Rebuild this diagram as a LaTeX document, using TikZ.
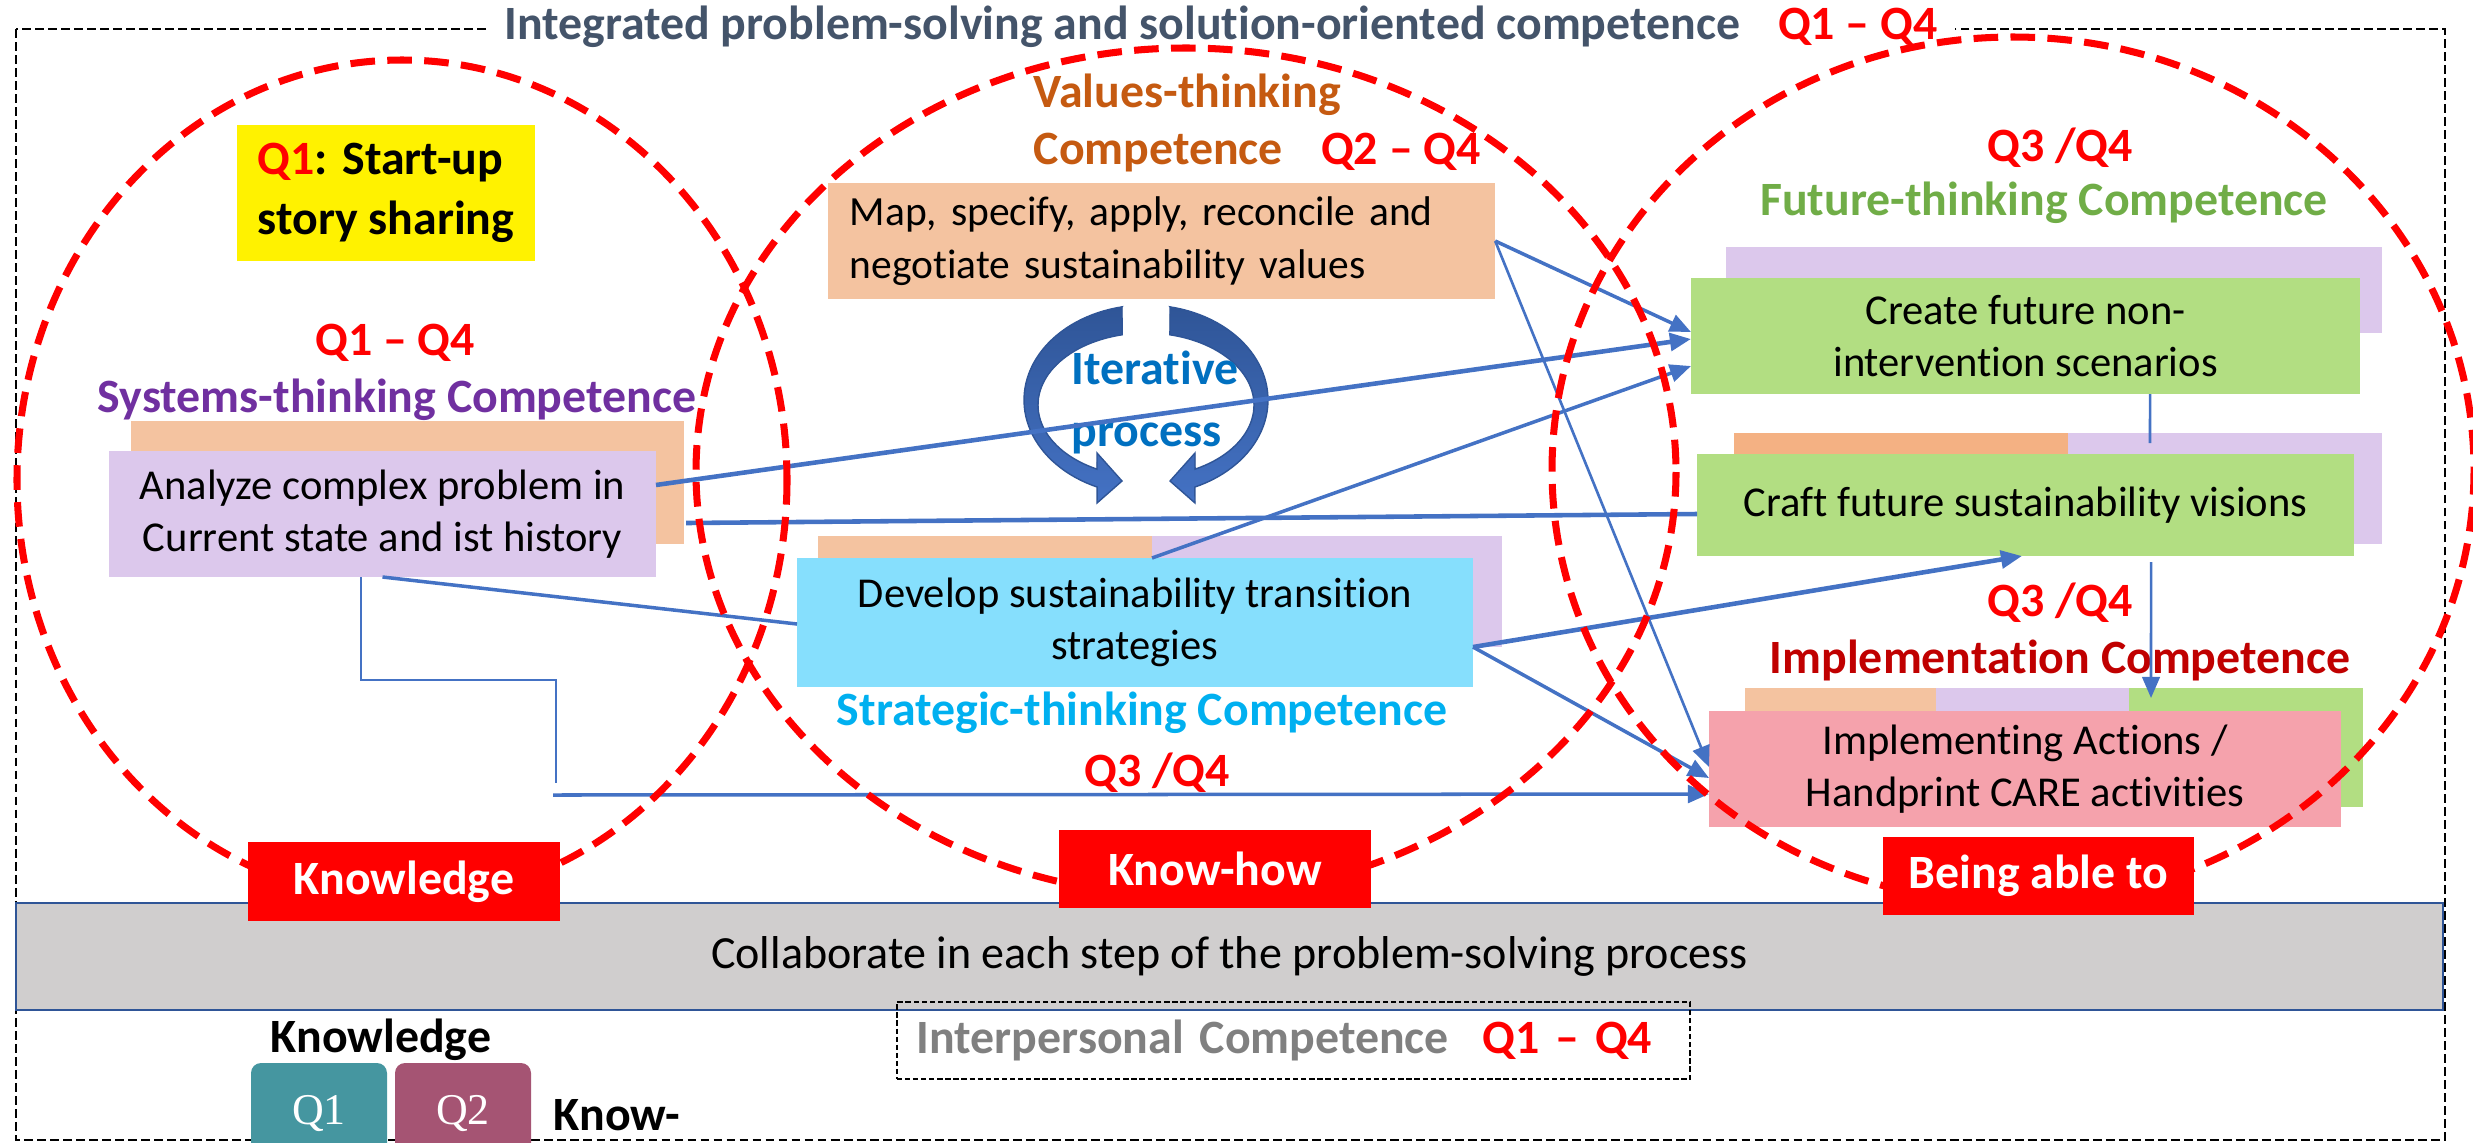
\documentclass[tikz,border=0pt]{standalone}
\usepackage{fontspec}
\setmainfont{Carlito}[Ligatures={TeX,NoCommon}]
\newfontfamily\qserif{Liberation Serif}
\usetikzlibrary{arrows.meta}
\definecolor{qred}{HTML}{FF0000}
\definecolor{titleslate}{HTML}{44546A}
\definecolor{valorange}{HTML}{C55A11}
\definecolor{syspurple}{HTML}{7030A0}
\definecolor{stratcyan}{HTML}{00B0F0}
\definecolor{futgreen}{HTML}{70AD47}
\definecolor{impred}{HTML}{C00000}
\definecolor{interpgray}{HTML}{808080}
\definecolor{arrowblue}{HTML}{4472C4}
\definecolor{iterblue}{HTML}{0070C0}
\definecolor{lav}{HTML}{DCC8EC}
\definecolor{peach}{HTML}{F4C3A0}
\definecolor{deeporange}{HTML}{F4B183}
\definecolor{boxgreen}{HTML}{B2DE82}
\definecolor{skyblue}{HTML}{86DFFD}
\definecolor{pinkbox}{HTML}{F5A2AC}
\definecolor{bandgray}{HTML}{D0CECE}
\definecolor{bandblue}{HTML}{2F5597}
\definecolor{darkarc}{HTML}{2F5597}
\definecolor{qteal}{HTML}{4596A0}
\definecolor{qplum}{HTML}{A55473}
\newcommand\hdrfont{\fontsize{13.6}{16.2}\selectfont\bfseries}
\newcommand\bodfont{\fontsize{12.1}{14.8}\selectfont}
\tikzset{
  pbox/.style 2 args={minimum width=#1*0.01cm, minimum height=#2*0.01cm, inner sep=0pt, outer sep=0pt},
  bodybox/.style={font=\bodfont, align=center},
  lbl/.style={fill=qred, text=white, font=\hdrfont},
  txt/.style={inner sep=0pt, align=center, font=\hdrfont},
  conn/.style={draw=arrowblue, line width=1pt},
  thickconn/.style={conn, line width=1.3pt},
  thinconn/.style={conn, line width=0.75pt},
  arrowtipped/.style={-{Triangle[length=6pt,width=5pt]}},
  redcirc/.style={draw=qred, line width=2pt, dash pattern=on 7pt off 3.5pt},
  framebox/.style={draw=black, line width=0.7pt, dash pattern=on 2.5pt off 1.2pt},
  iterarrow/.style={top color=darkarc, bottom color=arrowblue, draw=darkarc, line width=0.4pt},
}
\begin{document}
\begin{tikzpicture}[x=0.01cm,y=-0.01cm]
\useasboundingbox (0,0) rectangle (2473,1142);
\clip (0,0) rectangle (2473,1142);
% outer frame
\draw[framebox] (16,29) rectangle (2445,1140);
% collaboration band
\node[pbox={2427}{107}, fill=bandgray, draw=bandblue, line width=0.8pt, font=\fontsize{13.1}{16}\selectfont] (band) at (1229.5,956.5) {Collaborate in each step of the problem-solving process};
\node[pbox={793}{77}, draw=black, dash pattern=on 1.5pt off 0.8pt, line width=0.5pt, text width=7.53cm, inner xsep=0.2cm, align=left, font=\hdrfont, text=interpgray] (inter) at (1293.5,1040.5) {Interpersonal Competence\hspace{0.7em}\textcolor{qred}{Q1 – Q4}};
% back boxes
\fill[peach] (131,421) rectangle (684,544);
\fill[peach] (818,536) rectangle (1152,647);
\fill[lav] (1152,536) rectangle (1502,647);
\fill[lav] (1726,247) rectangle (2382,333);
\fill[deeporange] (1734,433) rectangle (2068,544);
\fill[lav] (2068,433) rectangle (2382,544);
\fill[peach] (1745,688) rectangle (1936,800);
\fill[lav] (1936,688) rectangle (2129,800);
\fill[boxgreen] (2129,688) rectangle (2363,807);
% main boxes
\node[pbox={298}{136}, fill=yellow, align=left, font=\fontsize{13.6}{17}\selectfont\bfseries] (story) at (386,193) {\textcolor{qred}{Q1}: Start-up\\story sharing};
\node[pbox={547}{126}, fill=lav, bodybox] (analyze) at (382.5,514) {Analyze complex problem in\\Current state and ist history};
\node[pbox={667}{116}, fill=peach, font=\fontsize{11.8}{15.2}\selectfont, text width=6.23cm, inner xsep=0.22cm, align=left] (map) at (1161.5,241) {Map, specify, apply, reconcile and\\negotiate sustainability values};
\node[pbox={676}{129}, fill=skyblue, bodybox] (develop) at (1135,622.5) {Develop sustainability transition\\strategies};
\node[pbox={669}{116}, fill=boxgreen, bodybox] (create) at (2025.5,336) {Create future non-\\intervention scenarios};
\node[pbox={657}{102}, fill=boxgreen, bodybox] (craft) at (2025.5,505) {Craft future sustainability visions};
\node[pbox={632}{116}, fill=pinkbox, bodybox] (impl) at (2025,769) {Implementing Actions /\\Handprint CARE activities};
% iterative circular arrows
\fill[iterarrow] (1122,307) -- plot[domain=258.7:113.6, samples=50] ({1146+122*cos(\x)},{400+95*sin(\x)}) -- (1097,503) -- (1122,481) -- (1097,453) -- plot[domain=117:257.2, samples=50] ({1146+108*cos(\x)},{405+72*sin(\x)}) -- cycle;
\fill[iterarrow] (1170,307) -- plot[domain=258.7:113.6, samples=50] ({1146-122*cos(\x)},{400+95*sin(\x)}) -- (1195,503) -- (1170,481) -- (1195,453) -- plot[domain=117:257.2, samples=50] ({1146-108*cos(\x)},{405+72*sin(\x)}) -- cycle;
\node[txt, anchor=west, align=left, text=iterblue, font=\fontsize{13.6}{17.4}\selectfont\bfseries] (iter) at (1071,402.5) {Iterative\\process};
% headings
\node[txt, fill=white, inner xsep=5pt, text=titleslate] (title) at (1221,27) {Integrated problem-solving and solution-oriented competence\hspace{0.8em}\textcolor{qred}{Q1 – Q4}};
\node[txt, text=qred] (sysq) at (395,343) {Q1 – Q4};
\node[txt, text=syspurple] (syshead) at (397,400) {Systems-thinking Competence};
\node[txt, anchor=west, align=left, text=valorange] (valhead) at (1033,122.5) {Values-thinking\\Competence\hspace{0.8em}\textcolor{qred}{Q2 – Q4}};
\node[txt, text=stratcyan] (strathead) at (1142,713) {Strategic-thinking Competence};
\node[txt, text=qred] (stratq) at (1157,773) {Q3 /Q4};
\node[txt, text=qred] (futq) at (2060,148) {Q3 /Q4};
\node[txt, text=futgreen] (futhead) at (2044,203) {Future-thinking Competence};
\node[txt, text=qred] (impq) at (2060,603) {Q3 /Q4};
\node[txt, text=impred] (imphead) at (2060,660) {Implementation Competence};
% connectors
\coordinate (elb) at (556,680);
\coordinate (elbend) at (556,783);
\coordinate (lowstart) at (553,795);
\coordinate (createdrop) at (2150,443);
\coordinate (implbacktop) at (2151,698);
\draw[conn, arrowtipped] (map.east) -- ([yshift=0.04cm]create.west);
\draw[thinconn, arrowtipped] (map.east) -- ([yshift=0.02cm]impl.west);
\draw[thickconn, arrowtipped] ([yshift=0.29cm]analyze.east) -- ([yshift=-0.03cm]create.west);
\draw[conn, arrowtipped] ([xshift=0.17cm]develop.north) -- ([yshift=-0.30cm]create.west);
\draw[thickconn] ([shift={(0.30cm,-0.09cm)}]analyze.east) -- ([yshift=-0.09cm]craft.west);
\draw[conn] (analyze.south) -- ([yshift=-0.015cm]develop.west);
\draw[thinconn] ([xshift=-0.215cm]analyze.south) |- (elb) -- (elbend);
\draw[conn, arrowtipped] (lowstart) -- ([yshift=-0.25cm]impl.west);
\draw[thickconn, arrowtipped] ([yshift=-0.245cm]develop.east) -- ([xshift=-0.035cm]craft.south);
\draw[conn, arrowtipped] ([yshift=-0.245cm]develop.east) -- ([yshift=-0.09cm]impl.west);
\draw[thinconn] ([xshift=1.245cm]create.south) -- (createdrop);
\draw[thinconn, arrowtipped] ([shift={(1.255cm,-0.06cm)}]craft.south) -- (implbacktop);
% dashed competence circles
\draw[redcirc] (402,480) ellipse [x radius=385, y radius=420];
\draw[redcirc] (1186,472) ellipse [x radius=490, y radius=424];
\draw[redcirc] (2013,470) ellipse [x radius=461, y radius=433];
% labels
\node[pbox={312}{79}, lbl] (knowl) at (404,881.5) {Knowledge};
\node[pbox={312}{78}, lbl] (knowhow) at (1215,869) {Know-how};
\node[pbox={311}{78}, lbl] (able) at (2038.5,876) {Being able to};
% bottom legend fragment
\node[txt] (legknow) at (381,1040) {Knowledge};
\fill[qteal, rounded corners=0.1cm] (251,1063) rectangle (387,1190);
\fill[qplum, rounded corners=0.1cm] (395,1063) rectangle (531,1190);
\node[txt, text=white, font=\qserif\fontsize{12.5}{14}\selectfont] (legq1) at (319,1113) {Q1};
\node[txt, text=white, font=\qserif\fontsize{12.5}{14}\selectfont] (legq2) at (463,1113) {Q2};
\node[txt, anchor=west] (legknowhow) at (553,1115) {Know-};
\end{tikzpicture}
\end{document}
